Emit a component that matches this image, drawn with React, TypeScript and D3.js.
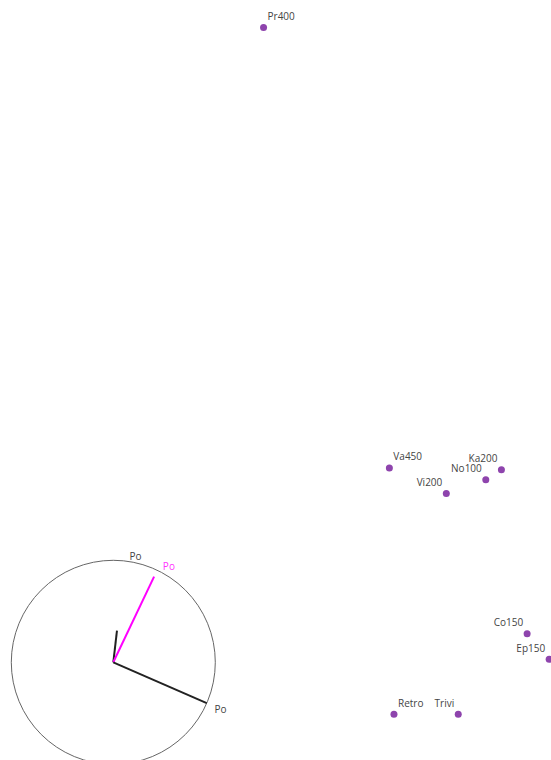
import React from 'react'
import * as d3 from 'd3'

// Individuals (scores)
const names = ['Pr400', 'Va450', 'Ka200', 'No100', 'Vi200', 'Co150', 'Ep150', 'Retro', 'Trivi']
const pc1 = [-0.13, 1.24, 2.46, 2.29, 1.86, 2.74, 2.98, 1.29, 1.99]
const pc2 = [3.85, -0.96, -0.98, -1.09, -1.24, -2.77, -3.05, -3.65, -3.65]
// which side of the dot each label sits
const labelSide = ['right', 'right', 'left', 'left', 'left', 'left', 'left', 'right', 'left']

// Variables (loadings on correlation circle)
const varNames = ['Po', 'Po', 'Po']
const load1 = [0.036, 0.40, 0.916]
const load2 = [0.31, 0.84, -0.40]
const varColors = ['#222222', '#ff00ff', '#222222']
const varLabelColors = ['#444444', '#ff33ff', '#444444']

const W = 551
const H = 760
const FONT = '"Open Sans", "Noto Sans", sans-serif'

export default function App() {
  const x = d3.scaleLinear().domain([-3, 3]).range([0, W])
  const y = d3.scaleLinear().domain([-4.15, 4.15]).range([H, 0])

  // correlation circle
  const cx = 113.3
  const cy = 662.3
  const R = 102
  const lx = d3.scaleLinear().domain([-1, 1]).range([cx - R, cx + R])
  const ly = d3.scaleLinear().domain([-1, 1]).range([cy + R, cy - R])

  return (
    <svg width={W} height={H} style={{ position: 'absolute', left: 0, top: 0 }} fontFamily={FONT}>
      <circle cx={cx} cy={cy} r={R} fill="none" stroke="#666" strokeWidth={1} />
      {varNames.map((n, i) => {
        const len = Math.hypot(load1[i], load2[i])
        const ux = load1[i] / len
        const uy = -load2[i] / len
        const tx = cx + ux * (R + 4) + 4
        const ty = cy + uy * (R + 4) + (uy > 0 ? 8 : 3)
        return (
          <g key={i}>
            <line x1={lx(0)} y1={ly(0)} x2={lx(load1[i])} y2={ly(load2[i])}
              stroke={varColors[i]} strokeWidth={2} />
            <text x={tx} y={ty} fontSize={10} fill={varLabelColors[i]}>{n}</text>
          </g>
        )
      })}
      {names.map((n, i) => {
        const px = x(pc1[i])
        const py = y(pc2[i])
        const right = labelSide[i] === 'right'
        return (
          <g key={n}>
            <circle cx={px} cy={py} r={3.5} fill="#8e44ad" />
            <text x={px + (right ? 4 : -4)} y={py - 7.5} fontSize={10} fill="#444"
              textAnchor={right ? 'start' : 'end'}>{n}</text>
          </g>
        )
      })}
    </svg>
  )
}
